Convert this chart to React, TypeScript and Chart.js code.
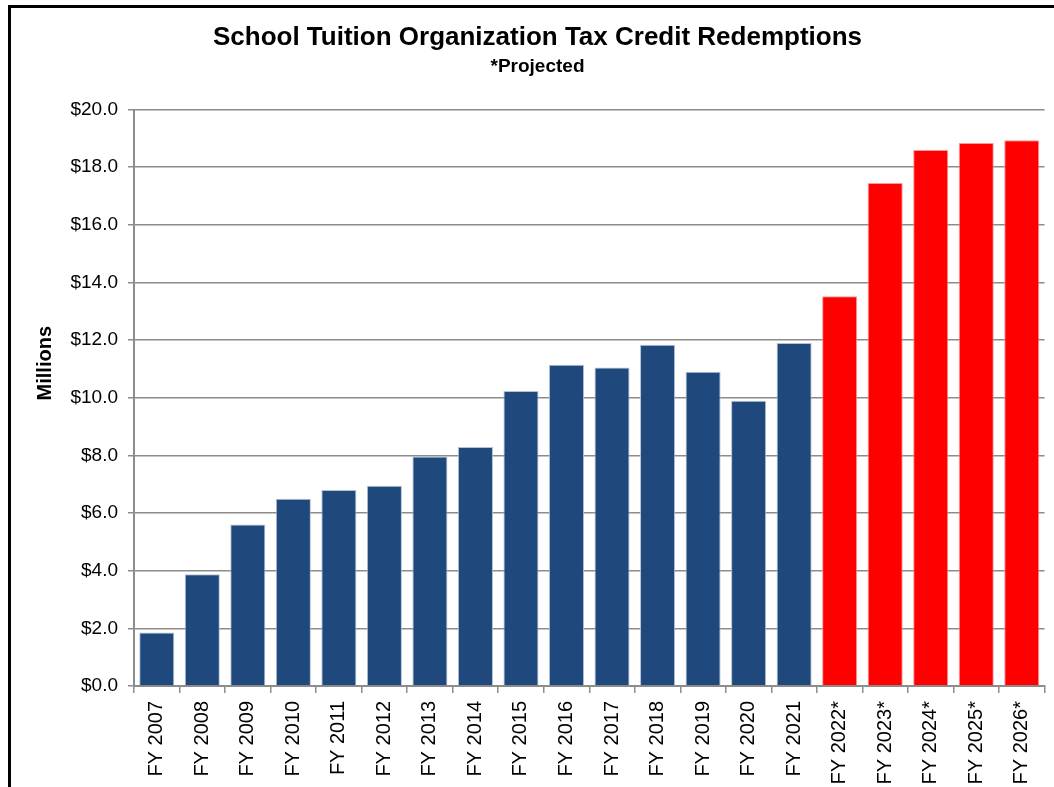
import React, { useEffect, useRef } from "react";
import { Chart, registerables } from "chart.js";

Chart.register(...registerables);

const categories = [
  "FY 2007", "FY 2008", "FY 2009", "FY 2010", "FY 2011", "FY 2012", "FY 2013",
  "FY 2014", "FY 2015", "FY 2016", "FY 2017", "FY 2018", "FY 2019", "FY 2020",
  "FY 2021", "FY 2022*", "FY 2023*", "FY 2024*", "FY 2025*", "FY 2026*",
];
const redemptions = [
  1.86, 3.88, 5.6, 6.5, 6.8, 6.95, 7.96, 8.29, 10.24, 11.15, 11.05, 11.84, 10.9,
  9.9, 11.9, 13.52, 17.45, 18.6, 18.84, 18.94,
];
const yMin = 0;
const yMax = 20;
const yStep = 2;
const titleText = "School Tuition Organization Tax Credit Redemptions";
const subtitleText = "*Projected";
const yAxisLabel = "Millions";

const actualColor = "#1F497D";
const projectedColor = "#FF0000";
const gridColor = "#8c8c8c";
const FONT = "'Liberation Sans', Arial, Helvetica, sans-serif";

const millionsPlugin = {
  id: "millionsLabel",
  afterDraw(chart: any) {
    const { ctx, chartArea } = chart;
    ctx.save();
    ctx.font = `bold 20px ${FONT}`;
    ctx.fillStyle = "#000";
    ctx.textAlign = "center";
    ctx.textBaseline = "middle";
    const x = chartArea.left - 89;
    const y = chartArea.top + (chartArea.bottom - chartArea.top) * 0.44;
    ctx.translate(x, y);
    ctx.rotate(-Math.PI / 2);
    ctx.fillText(yAxisLabel, 0, 0);
    ctx.restore();
  },
};

export default function App() {
  const canvasRef = useRef<HTMLCanvasElement | null>(null);

  useEffect(() => {
    if (!canvasRef.current) return;
    const colors = categories.map((c) => (c.endsWith("*") ? projectedColor : actualColor));
    const borders = categories.map((c) =>
      c.endsWith("*") ? "rgba(255,140,140,0.9)" : "rgba(170,185,205,0.9)"
    );
    const chart = new Chart(canvasRef.current, {
      type: "bar",
      data: {
        labels: categories,
        datasets: [
          {
            data: redemptions,
            backgroundColor: colors,
            borderColor: borders,
            borderWidth: 1,
            barPercentage: 0.77,
            categoryPercentage: 1,
          },
        ],
      },
      options: {
        animation: false,
        responsive: false,
        devicePixelRatio: 1,
        layout: { padding: { left: 30, right: 9, top: 0, bottom: 0 } },
        plugins: {
          legend: { display: false },
          tooltip: { enabled: false },
          title: {
            display: true,
            text: titleText,
            color: "#000",
            font: { family: FONT, size: 26, weight: "bold" },
            padding: { top: 22, bottom: 2 },
          },
          subtitle: {
            display: true,
            text: subtitleText,
            color: "#000",
            font: { family: FONT, size: 19, weight: "bold" },
            padding: { top: 0, bottom: 31.6 },
          },
        },
        scales: {
          x: {
            grid: {
              display: true,
              drawOnChartArea: false,
              drawTicks: true,
              tickLength: 7,
              color: gridColor,
              lineWidth: 1.5,
              offset: true,
            },
            border: { display: true, color: gridColor, width: 2 },
            ticks: {
              color: "#000",
              font: { family: FONT, size: 20 },
              minRotation: 90,
              maxRotation: 90,
              padding: 8,
              autoSkip: false,
            },
            afterFit: (scale: any) => {
              scale.height = 101;
            },
          },
          y: {
            min: yMin,
            max: yMax,
            grid: {
              display: true,
              drawOnChartArea: true,
              drawTicks: true,
              tickLength: 6,
              color: gridColor,
              lineWidth: 1.5,
            },
            border: { display: true, color: gridColor, width: 2 },
            ticks: {
              stepSize: yStep,
              color: "#000",
              font: { family: FONT, size: 19 },
              padding: 10,
              callback: (v: any) => "$" + Number(v).toFixed(1),
            },
            afterFit: (scale: any) => {
              scale.width = 104;
            },
          },
        },
      },
      plugins: [millionsPlugin],
    });
    return () => chart.destroy();
  }, []);

  return (
    <div
      style={{
        position: "fixed",
        left: 0,
        top: 0,
        width: 1054,
        height: 787,
        overflow: "hidden",
        background: "#fff",
      }}
    >
      <div
        style={{
          position: "absolute",
          left: 8,
          top: 5,
          width: 2000,
          height: 2000,
          borderTop: "3px solid #000",
          borderLeft: "3px solid #000",
        }}
      />
      <canvas
        ref={canvasRef}
        width={1054}
        height={787}
        style={{ position: "absolute", left: 0, top: 0, width: 1054, height: 787 }}
      />
    </div>
  );
}
